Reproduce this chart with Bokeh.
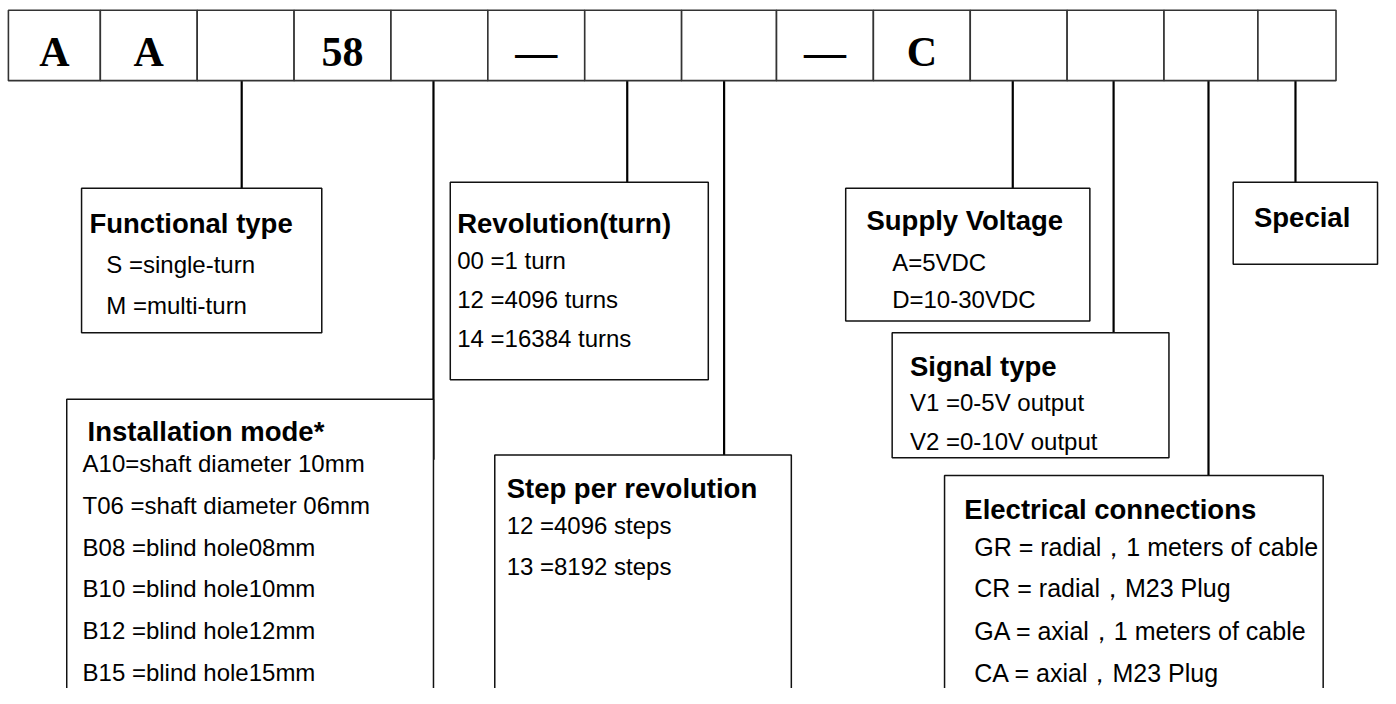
from bokeh.plotting import figure
from bokeh.models import Range1d
from bokeh.core.properties import value
from bokeh.embed import file_html
from bokeh.resources import INLINE

# ---- data ----
cell_labels = ["A", "A", "", "58", "", "—", "", "", "—", "C", "", "", "", ""]
cell_edges = [8, 101, 199, 297, 395, 493, 591, 689, 785, 883, 981, 1079, 1177, 1272, 1351]

box_titles = ["Functional type", "Installation mode*", "Revolution(turn)", "Step per revolution",
              "Supply Voltage", "Signal type", "Electrical connections", "Special"]
functional_items = ["S =single-turn", "M =multi-turn"]
installation_items = ["A10=shaft diameter 10mm", "T06 =shaft diameter 06mm", "B08 =blind hole08mm",
                      "B10 =blind hole10mm", "B12 =blind hole12mm", "B15 =blind hole15mm"]
revolution_items = ["00 =1 turn", "12 =4096 turns", "14 =16384 turns"]
step_items = ["12 =4096 steps", "13 =8192 steps"]
supply_items = ["A=5VDC", "D=10-30VDC"]
signal_items = ["V1 =0-5V output", "V2 =0-10V output"]
electrical_items = ["GR = radial，1 meters of cable", "CR = radial，M23 Plug",
                    "GA = axial，1 meters of cable", "CA = axial，M23 Plug"]
special_items = []

# ---- layout (reference pixel coordinates) ----
ROW_TOP, ROW_BOT = 10, 82
# box: left, right, top, bottom, title x, title y, items x, items y, connector x, connector end y
layout = [
    (82, 325, 192, 340, 90, 228, 107, [270, 312], 244, 192),
    (67, 438, 408, 730, 88, 441, 83, [474, 517, 560, 602, 645, 688], 438, 470),
    (455, 716, 186, 388, 462, 228, 462, [266, 306, 346], 634, 186),
    (500, 800, 465, 730, 512, 499, 512, [537, 579], 732, 465),
    (855, 1102, 192, 328, 876, 225, 902, [268, 306], 1024, 192),
    (902, 1182, 340, 468, 920, 375, 920, [411, 451], 1126, 340),
    (955, 1338, 486, 730, 975, 521, 985, [559, 601, 645, 688], 1222, 486),
    (1247, 1393, 186, 270, 1268, 222, 1268, [], 1310, 186),
]
items_all = [functional_items, installation_items, revolution_items, step_items,
             supply_items, signal_items, electrical_items, special_items]

p = figure(width=1380, height=688, x_range=Range1d(0, 1396), y_range=Range1d(704, 0),
           output_backend="svg", toolbar_location=None, min_border=0,
           x_axis_location=None, y_axis_location=None)
p.grid.visible = False
p.outline_line_color = None
p.background_fill_color = "white"
p.border_fill_color = "white"

# connectors
p.segment(x0=[l[8] for l in layout], y0=[ROW_BOT] * len(layout),
          x1=[l[8] for l in layout], y1=[l[9] for l in layout],
          line_color="black", line_width=2.2)

# boxes
p.quad(left=[l[0] for l in layout], right=[l[1] for l in layout],
       top=[l[2] for l in layout], bottom=[l[3] for l in layout],
       fill_color="white", line_color="#111111", line_width=1.5)

# top row cells
p.quad(left=cell_edges[:-1], right=cell_edges[1:], top=[ROW_TOP] * len(cell_labels),
       bottom=[ROW_BOT] * len(cell_labels), fill_color="white", line_color="#333333", line_width=1.6)
cx = [(a + b) / 2 for a, b in zip(cell_edges[:-1], cell_edges[1:])]
p.text(x=cx, y=[53] * len(cell_labels), text=cell_labels, text_font=value("Liberation Serif"),
       text_font_size="42px", text_font_style="bold", text_align="center",
       text_baseline="middle", text_color="black")

# titles
p.text(x=[l[4] for l in layout], y=[l[5] for l in layout], text=box_titles,
       text_font=value("Liberation Sans"), text_font_size="27.5px", text_font_style="bold",
       text_align="left", text_baseline="middle", text_color="black")

# items
xs, ys, ts, xe, ye, te = [], [], [], [], [], []
for l, its in zip(layout, items_all):
    for y, t in zip(l[7], its):
        if its is electrical_items:
            xe.append(l[6]); ye.append(y); te.append(t)
        else:
            xs.append(l[6]); ys.append(y); ts.append(t)
p.text(x=xs, y=ys, text=ts, text_font=value("Liberation Sans"), text_font_size="24px",
       text_align="left", text_baseline="middle", text_color="black")
p.text(x=xe, y=ye, text=te, text_font=value("Liberation Sans"), text_font_size="25px",
       text_align="left", text_baseline="middle", text_color="black")

open("out.html", "w").write(file_html(p, INLINE))
